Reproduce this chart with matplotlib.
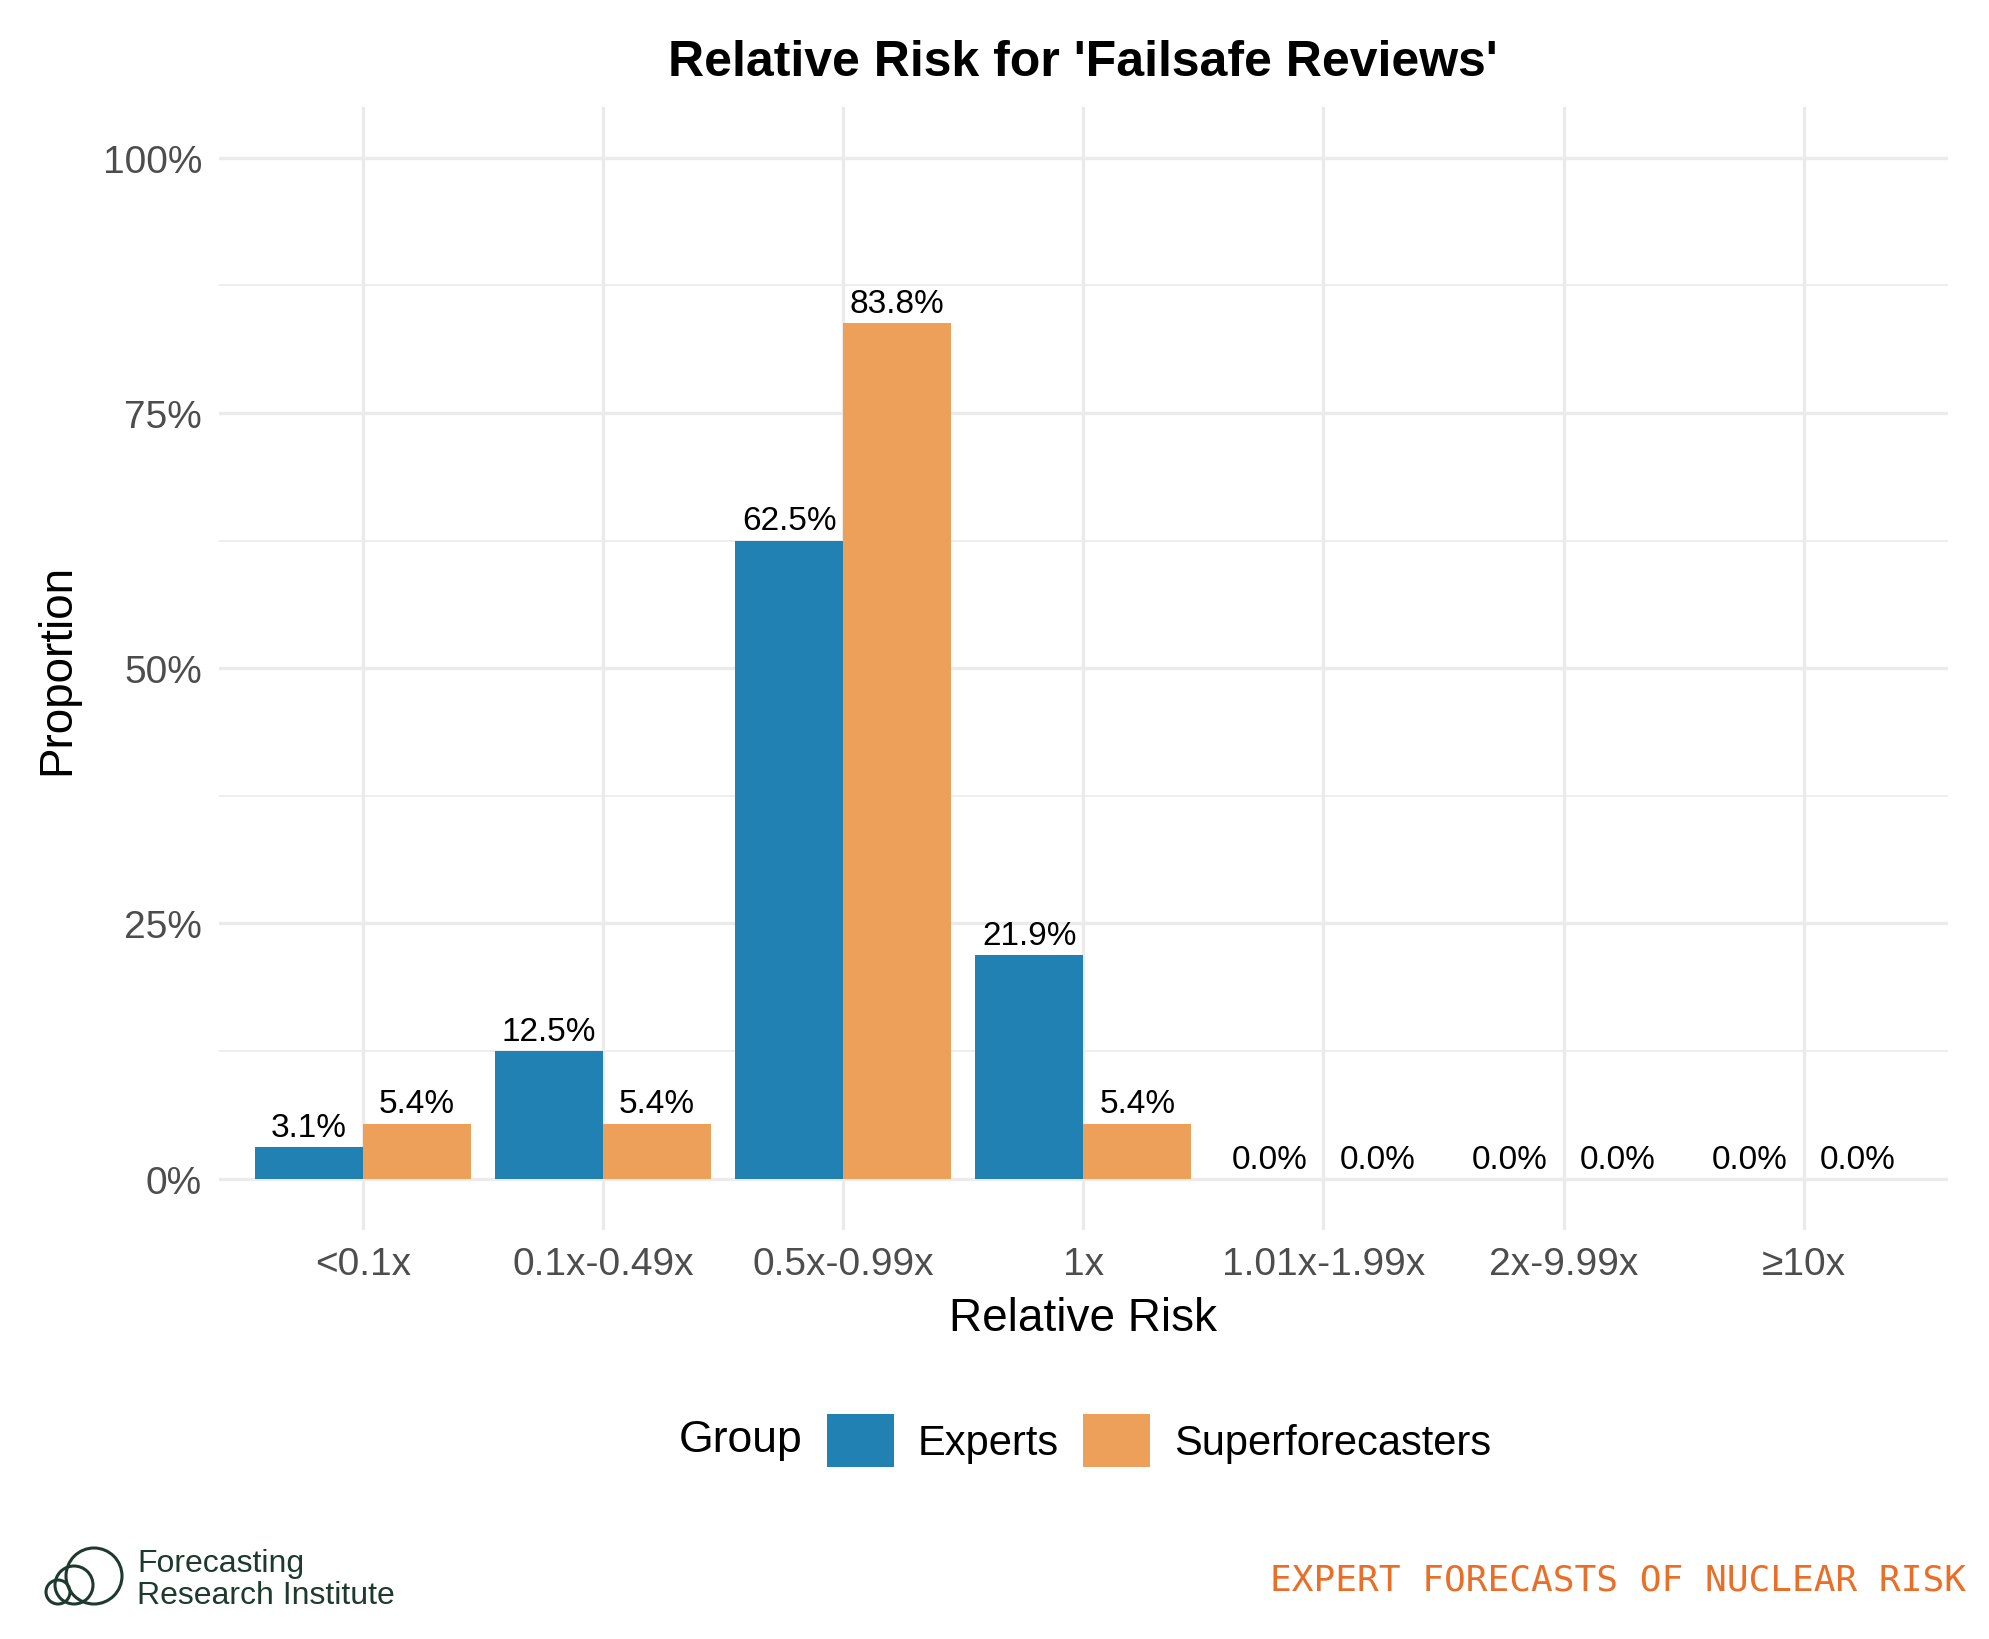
import numpy as np
import matplotlib
matplotlib.use('Agg')
import matplotlib.pyplot as plt
from matplotlib.patches import Patch, Circle
from matplotlib.ticker import FixedLocator, NullLocator

plt.rcParams['font.family'] = ['Liberation Sans', 'DejaVu Sans']

# data (percent)
categories = ['<0.1x', '0.1x-0.49x', '0.5x-0.99x', '1x', '1.01x-1.99x', '2x-9.99x', '≥10x']
groups = ['Experts', 'Superforecasters']
experts = [3.1, 12.5, 62.5, 21.9, 0.0, 0.0, 0.0]
superforecasters = [5.4, 5.4, 83.8, 5.4, 0.0, 0.0, 0.0]
y_ticks = [0, 25, 50, 75, 100]
y_tick_labels = ['0%', '25%', '50%', '75%', '100%']
y_minor = [12.5, 37.5, 62.5, 87.5]

colors = {'Experts': '#2181B2', 'Superforecasters': '#EDA05A'}
grid_col = '#EBEBEB'

W, H = 1989, 1640
fig = plt.figure(figsize=(W / 100, H / 100), dpi=100)
ax = fig.add_axes([218.7 / W, 1 - 1230.8 / H, 1729.2 / W, 1123.3 / H])

x = np.arange(1, len(categories) + 1)
bw = 0.45
series = {'Experts': experts, 'Superforecasters': superforecasters}
for i, g in enumerate(groups):
    vals = series[g]
    xs = x + (i - 0.5) * bw
    ax.bar(xs, vals, width=bw, color=colors[g], zorder=2)
    for xi, v in zip(xs, vals):
        ax.annotate(f'{v:.1f}%', (xi, v), xytext=(0, 8), textcoords='offset points',
                    ha='center', va='baseline', fontsize=24, color='black')

ax.set_xlim(0.4, len(categories) + 0.6)
ax.set_ylim(-5, 105)
ax.set_xticks(x)
ax.set_xticklabels(categories)
ax.xaxis.set_minor_locator(NullLocator())
ax.yaxis.set_major_locator(FixedLocator(y_ticks))
ax.set_yticklabels(y_tick_labels)
ax.yaxis.set_minor_locator(FixedLocator(y_minor))
ax.tick_params(which='both', length=0)
ax.tick_params(axis='x', labelsize=28, labelcolor='#4D4D4D', pad=12)
ax.tick_params(axis='y', labelsize=28, labelcolor='#4D4D4D', pad=12)
ax.grid(which='major', color=grid_col, lw=2.4, zorder=0)
ax.grid(which='minor', axis='y', color=grid_col, lw=1.2, zorder=0)
ax.set_axisbelow(True)
for s in ax.spines.values():
    s.set_visible(False)

ax.set_xlabel('Relative Risk', fontsize=33, va='center')
ax.xaxis.set_label_coords(0.5, -(1319 - 1230.8) / 1123.3)
ax.set_ylabel('Proportion', fontsize=33, va='center')
ax.yaxis.set_label_coords(-(218.7 - 57) / 1729.2, 0.5)

fig.text((218.7 + 1947.9) / 2 / W, 1 - 76 / H, "Relative Risk for 'Failsafe Reviews'",
         ha='center', va='baseline', fontsize=36, fontweight='bold')

# legend
handles = [Patch(facecolor=colors[g], edgecolor='none') for g in groups]
fig.legend(handles, groups, loc='center left', bbox_to_anchor=(827 / W, 1 - 1441 / H),
           ncol=2, frameon=False, fontsize=30, handlelength=1.6, handleheight=1.58,
           handletextpad=0.58, columnspacing=0.58, borderpad=0, borderaxespad=0)
fig.text(679 / W, 1 - 1441 / H, 'Group', ha='left', va='center', fontsize=32)

# footer
fig.text(1966 / W, 1 - 1591 / H, 'EXPERT FORECASTS OF NUCLEAR RISK', ha='right', va='baseline',
         fontsize=26, color='#E96E27', family='DejaVu Sans Mono')

logo_col = '#1E3A2F'
lax = fig.add_axes([30 / W, 1 - 1615 / H, 100 / W, 75 / H])
lax.set_xlim(30, 130)
lax.set_ylim(1615, 1540)
lax.axis('off')
for cx, cy, r in [(58, 1593, 12), (74, 1586, 19), (94, 1577, 28)]:
    lax.add_patch(Circle((cx, cy), r, fill=False, ec=logo_col, lw=2.2))
fig.text(137 / W, 1 - 1572 / H, 'Forecasting', ha='left', va='baseline', fontsize=23, color=logo_col)
fig.text(137 / W, 1 - 1604 / H, 'Research Institute', ha='left', va='baseline', fontsize=23, color=logo_col)

fig.savefig('out.png', dpi=100, facecolor='white')
